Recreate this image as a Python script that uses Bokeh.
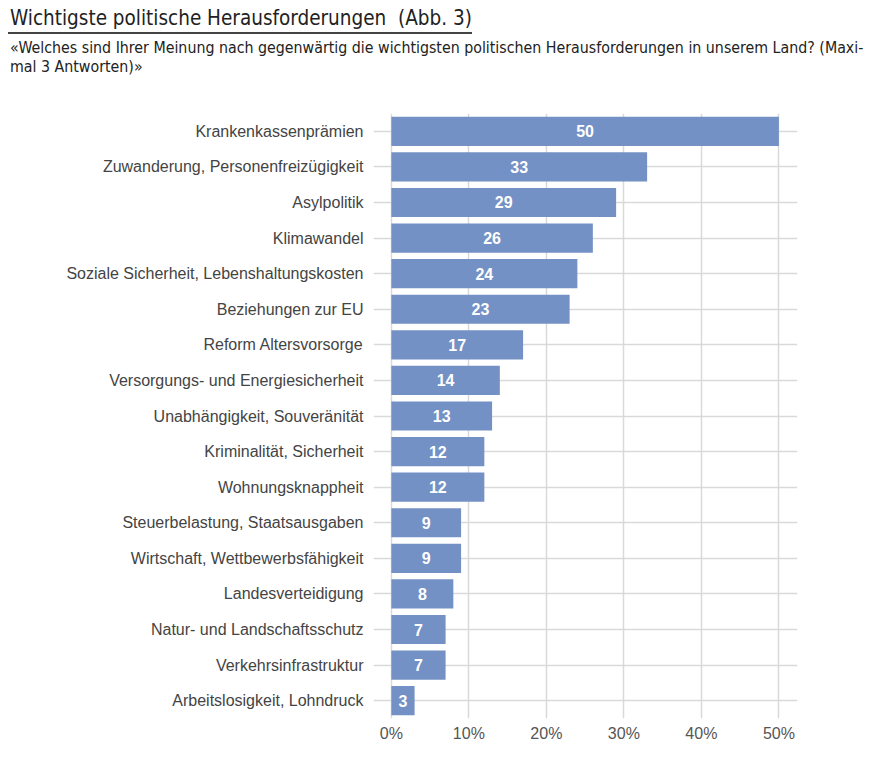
from bokeh.plotting import figure
from bokeh.models import ColumnDataSource, FactorRange, Div, Range1d, FixedTicker, LabelSet
from bokeh.core.properties import value
from bokeh.layouts import column
from bokeh.embed import file_html
from bokeh.resources import INLINE

categories = [
    "Krankenkassenprämien",
    "Zuwanderung, Personenfreizügigkeit",
    "Asylpolitik",
    "Klimawandel",
    "Soziale Sicherheit, Lebenshaltungskosten",
    "Beziehungen zur EU",
    "Reform Altersvorsorge",
    "Versorgungs- und Energiesicherheit",
    "Unabhängigkeit, Souveränität",
    "Kriminalität, Sicherheit",
    "Wohnungsknappheit",
    "Steuerbelastung, Staatsausgaben",
    "Wirtschaft, Wettbewerbsfähigkeit",
    "Landesverteidigung",
    "Natur- und Landschaftsschutz",
    "Verkehrsinfrastruktur",
    "Arbeitslosigkeit, Lohndruck",
]
values = [50, 33, 29, 26, 24, 23, 17, 14, 13, 12, 12, 9, 9, 8, 7, 7, 3]
x_ticks = [0, 10, 20, 30, 40, 50]
x_tick_labels = ["0%", "10%", "20%", "30%", "40%", "50%"]

title_text = "Wichtigste politische Herausforderungen&nbsp; (Abb. 3)"
subtitle_text = ("«Welches sind Ihrer Meinung nach gegenwärtig die wichtigsten politischen "
                 "Herausforderungen in unserem Land? (Maxi-<br>mal 3 Antworten)»")

BAR = "#7491c5"
COND = "'Liberation Sans Narrow','DejaVu Sans Condensed','Roboto Condensed','Open Sans',sans-serif"

source = ColumnDataSource(dict(
    cat=categories,
    val=values,
    mid=[v / 2 for v in values],
    lab=[str(v) for v in values],
))

title_div = Div(
    text=(f"<span style=\"display:inline-block;font-family:{COND};font-stretch:condensed;"
          f"font-size:20.5px;line-height:20px;color:#222;padding-bottom:4px;padding-left:2px;"
          f"border-bottom:2px solid #444;white-space:nowrap;\">{title_text}</span>"),
    width=857, height=30, margin=(8, 0, 0, 8),
)
subtitle_div = Div(
    text=(f"<div style=\"font-family:{COND};font-stretch:condensed;font-size:15.8px;"
          f"line-height:19px;color:#222;padding-left:2px;white-space:nowrap;\">{subtitle_text}</div>"),
    width=857, height=65, margin=(0, 0, 0, 8),
)

p = figure(
    width=857, height=642,
    y_range=FactorRange(factors=list(reversed(categories))),
    x_range=Range1d(-2.3, 52.4),
    output_backend="svg", toolbar_location=None,
    min_border_left=365, min_border_right=68, min_border_top=10, min_border_bottom=27,
    margin=(0, 0, 0, 8),
)
p.hbar(y="cat", left=0, right="val", height=0.82, source=source,
       fill_color=BAR, line_color=None)

labels = LabelSet(x="mid", y="cat", text="lab", source=source,
                  text_align="center", text_baseline="middle",
                  text_color="white", text_font_style="bold",
                  text_font_size="16px", text_font=value("Liberation Sans"))
p.add_layout(labels)

p.outline_line_color = None
p.xgrid.ticker = FixedTicker(ticks=x_ticks)
p.xgrid.grid_line_color = "#d9d9d9"
p.xgrid.grid_line_width = 1.5
p.ygrid.grid_line_color = "#d9d9d9"
p.ygrid.grid_line_width = 1.5

p.xaxis.ticker = FixedTicker(ticks=x_ticks)
p.xaxis.major_label_overrides = {t: l for t, l in zip(x_ticks, x_tick_labels)}
p.xaxis.axis_line_color = None
p.xaxis.major_tick_line_color = None
p.xaxis.minor_tick_line_color = None
p.xaxis.major_tick_out = 0
p.xaxis.major_label_standoff = 6
p.xaxis.major_label_text_font = "Liberation Sans"
p.xaxis.major_label_text_font_size = "16px"
p.xaxis.major_label_text_color = "#555555"

p.yaxis.axis_line_color = None
p.yaxis.major_tick_line_color = None
p.yaxis.major_tick_out = 0
p.yaxis.major_label_standoff = 10
p.yaxis.major_label_text_font = "Liberation Sans"
p.yaxis.major_label_text_font_size = "16px"
p.yaxis.major_label_text_color = "#444444"

layout = column(title_div, subtitle_div, p)
open("out.html", "w").write(file_html(layout, INLINE))
